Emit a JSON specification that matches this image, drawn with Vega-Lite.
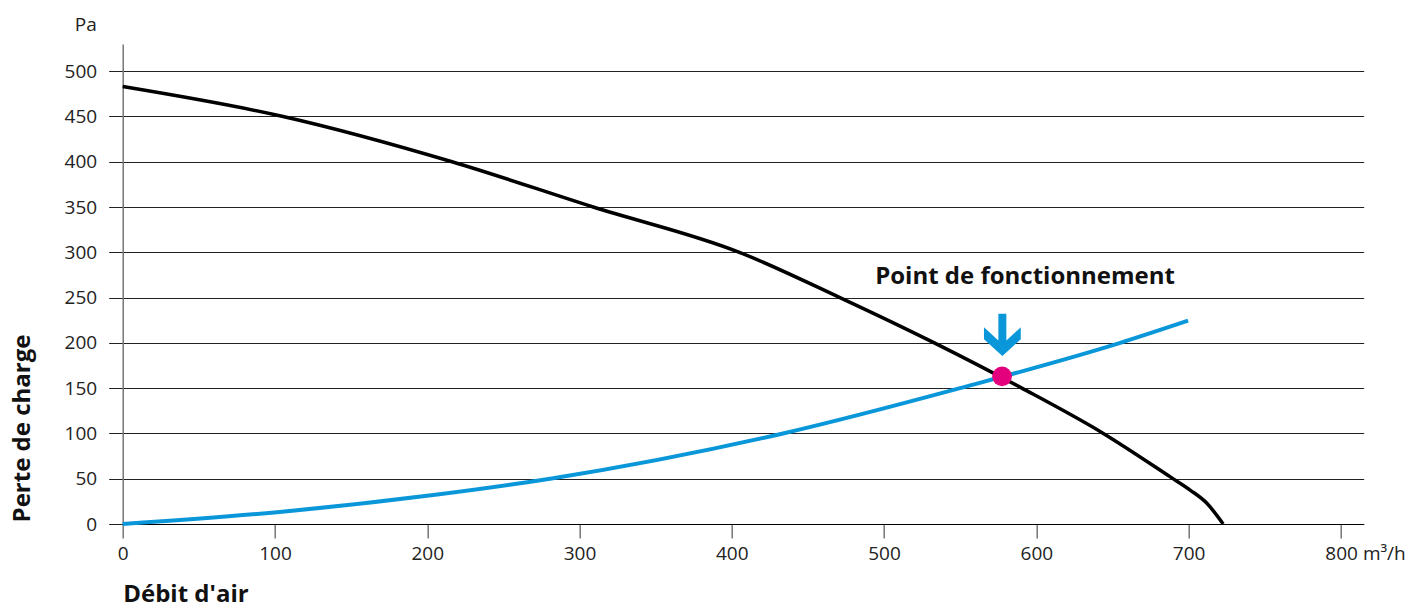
{
  "$schema": "https://vega.github.io/schema/vega-lite/v6.json",
  "width": 1241,
  "height": 480,
  "autosize": {"type": "none"},
  "padding": {"left": 122.7, "top": 44, "right": 43.3, "bottom": 85},
  "background": "white",
  "config": {"font": "Open Sans", "view": {"stroke": null}},
  "title": {"text": "Pa", "anchor": "start", "frame": "group", "dx": -48, "dy": 21, "offset": 15, "baseline": "alphabetic", "fontSize": 19, "fontWeight": "normal", "color": "#222"},
  "layer": [
    {
      "data": {"values": [
        {"x": 0, "y": 483, "curve": "ventilateur"},
        {"x": 105.3, "y": 450, "curve": "ventilateur"},
        {"x": 216.3, "y": 400, "curve": "ventilateur"},
        {"x": 309, "y": 350, "curve": "ventilateur"},
        {"x": 405, "y": 300, "curve": "ventilateur"},
        {"x": 471, "y": 250, "curve": "ventilateur"},
        {"x": 533, "y": 200, "curve": "ventilateur"},
        {"x": 590.5, "y": 150, "curve": "ventilateur"},
        {"x": 644, "y": 100, "curve": "ventilateur"},
        {"x": 688, "y": 52, "curve": "ventilateur"},
        {"x": 701, "y": 37.5, "curve": "ventilateur"},
        {"x": 712, "y": 22.9, "curve": "ventilateur"},
        {"x": 722.7, "y": 0, "curve": "ventilateur"},
        {"x": 0, "y": 0, "curve": "réseau"},
        {"x": 104.8, "y": 13.6, "curve": "réseau"},
        {"x": 204, "y": 32, "curve": "réseau"},
        {"x": 280.7, "y": 50, "curve": "réseau"},
        {"x": 433.7, "y": 100, "curve": "réseau"},
        {"x": 549.9, "y": 150, "curve": "réseau"},
        {"x": 655.1, "y": 200, "curve": "réseau"},
        {"x": 699.7, "y": 224.5, "curve": "réseau"}
      ]},
      "mark": {"type": "line", "interpolate": "monotone", "strokeCap": "butt"},
      "encoding": {
        "x": {
          "field": "x", "type": "quantitative",
          "scale": {"domain": [0, 815], "nice": false, "zero": false},
          "axis": {
            "values": [0, 100, 200, 300, 400, 500, 600, 700, 800],
            "grid": false,
            "domainColor": "#000", "domainWidth": 1,
            "tickColor": "#777", "tickSize": 14, "tickWidth": 1.5,
            "labelPadding": 6, "labelFontSize": 19, "labelColor": "#222",
            "labelFlush": false, "labelOverlap": false, "labelBound": false,
            "labelExpr": "datum.value == 800 ? '800 m³/h' : datum.label",
            "labelAlign": {"condition": {"test": "datum.value == 800", "value": "left"}, "value": "center"},
            "labelOffset": {"condition": {"test": "datum.value == 800", "value": -16}, "value": 0},
            "title": "Débit d'air", "titleFontSize": 24, "titleFontWeight": "bold", "titleColor": "#111",
            "titleAnchor": "start", "titleAlign": "left", "titleBaseline": "middle", "titleX": 0, "titleY": 70
          }
        },
        "y": {
          "field": "y", "type": "quantitative",
          "scale": {"domain": [0, 530], "nice": false},
          "axis": {
            "values": [0, 50, 100, 150, 200, 250, 300, 350, 400, 450, 500],
            "grid": true, "gridColor": "#222", "gridWidth": 1,
            "domainColor": "#777", "domainWidth": 1.5,
            "tickColor": "#222", "tickSize": 14, "tickWidth": 1,
            "labelPadding": 12, "labelFontSize": 19, "labelColor": "#222",
            "title": "Perte de charge", "titleFontSize": 24, "titleFontWeight": "bold", "titleColor": "#111",
            "titleAngle": -90, "titleAlign": "center", "titleBaseline": "middle", "titleX": -100, "titleY": 384
          }
        },
        "color": {"field": "curve", "type": "nominal", "scale": {"domain": ["ventilateur", "réseau"], "range": ["#000000", "#0a97d9"]}, "legend": null},
        "strokeWidth": {"field": "curve", "type": "nominal", "scale": {"domain": ["ventilateur", "réseau"], "range": [3.5, 4]}, "legend": null}
      }
    },
    {
      "data": {"values": [{"x": 577.5, "y": 163}]},
      "mark": {"type": "point", "shape": "circle", "filled": true, "size": 390, "color": "#e4007c", "opacity": 1},
      "encoding": {
        "x": {"field": "x", "type": "quantitative"},
        "y": {"field": "y", "type": "quantitative"}
      }
    },
    {
      "data": {"values": [{"x": 577.7, "y": 209}]},
      "mark": {"type": "point", "shape": "M-0.19,-1L0.19,-1L0.19,0.27L0.876,-0.352L0.876,0.219L0,1.014L-0.876,0.219L-0.876,-0.352L-0.19,0.27Z", "filled": true, "size": 1764, "color": "#0a97d9", "opacity": 1},
      "encoding": {
        "x": {"field": "x", "type": "quantitative"},
        "y": {"field": "y", "type": "quantitative"}
      }
    },
    {
      "data": {"values": [{"x": 592.6, "y": 272.7, "label": "Point de fonctionnement"}]},
      "mark": {"type": "text", "fontSize": 24, "fontWeight": "bold", "align": "center", "baseline": "middle", "color": "#111"},
      "encoding": {
        "x": {"field": "x", "type": "quantitative"},
        "y": {"field": "y", "type": "quantitative"},
        "text": {"field": "label"}
      }
    }
  ]
}
